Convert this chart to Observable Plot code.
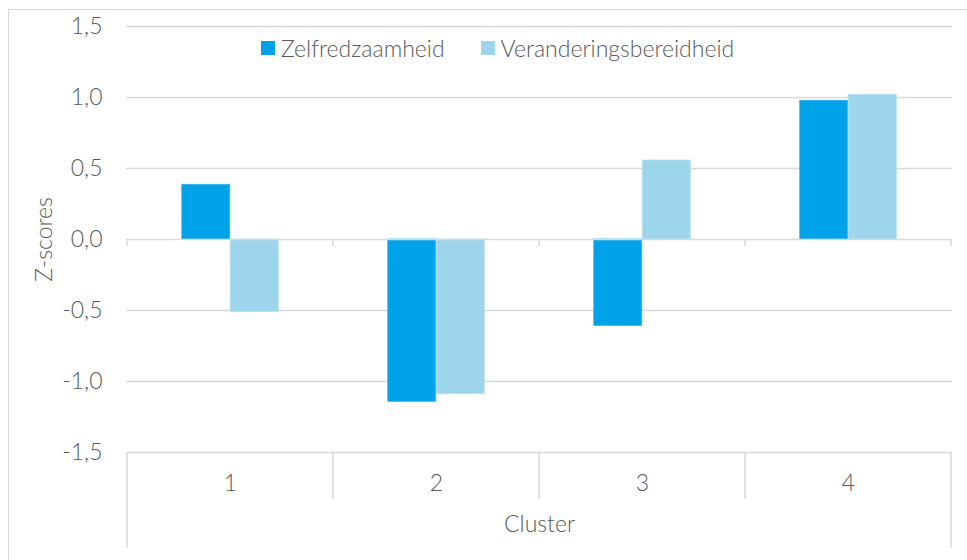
<!DOCTYPE html>
<html>
<head>
<meta charset="utf-8">
<script src="https://cdn.jsdelivr.net/npm/d3@7"></script>
<script src="https://cdn.jsdelivr.net/npm/@observablehq/plot@0.6"></script>
<style>
  html, body { margin: 0; padding: 0; background: #fff; overflow: hidden; }
  #wrap { position: relative; width: 967px; height: 560px; overflow: hidden; font-family: Lato, "Open Sans", sans-serif; font-weight: 300; color: #595959; }
  #border { position: absolute; left: 8px; top: 9px; width: 1000px; height: 600px; border: 1.5px solid #d9d9d9; box-sizing: border-box; }
  #chart { position: absolute; left: 0; top: 0; }
  #legend { position: absolute; left: 261px; top: 34px; height: 28px; display: flex; align-items: center; gap: 36px; font-size: 23px; }
  .item { display: flex; align-items: center; gap: 6px; white-space: nowrap; }
  .sw { width: 14px; height: 14px; display: inline-block; }
</style>
</head>
<body>
<div id="wrap">
  <div id="border"></div>
  <div id="chart"></div>
  <div id="legend"></div>
</div>
<script>
// ---- data ----
const clusters = ["1", "2", "3", "4"];
const seriesNames = ["Zelfredzaamheid", "Veranderingsbereidheid"];
const zelfredzaamheid = [0.385, -1.143, -0.608, 0.977];
const veranderingsbereidheid = [-0.509, -1.089, 0.556, 1.019];
const yTicks = [-1.5, -1.0, -0.5, 0.0, 0.5, 1.0, 1.5];
const colors = ["#00A3E9", "#9DD5EC"];
const xTitle = "Cluster";
const yTitle = "Z-scores";

// ---- layout ----
const W = 967, H = 560, ML = 126, MR = 15, MT = 26, MB = 108;
const bandW = (W - ML - MR) / clusters.length;
const barW = 48.5;
const grid = "#d9d9d9";
const textColor = "#595959";
const FS = 23;

const rowsZ = clusters.map((c, i) => ({cluster: c, series: seriesNames[0], value: zelfredzaamheid[i]}));
const rowsV = clusters.map((c, i) => ({cluster: c, series: seriesNames[1], value: veranderingsbereidheid[i]}));

const fmt = d => d.toFixed(1).replace(".", ",");

// category axis box lines, drawn from Plot's own scales
function axisBox(index, scales) {
  const x = scales.x, y = scales.y;
  const bw = x.bandwidth();
  const yb = y(yTicks[0]);
  const y0 = y(0);
  const g = d3.create("svg:g").attr("stroke", grid).attr("stroke-width", 1.5).attr("fill", "none");
  const edges = clusters.map(c => x(c)).concat([x(clusters[clusters.length - 1]) + bw]);
  edges.forEach((ex, i) => {
    const outer = i === 0 || i === edges.length - 1;
    g.append("line").attr("x1", ex).attr("x2", ex).attr("y1", yb).attr("y2", yb + (outer ? 96 : 47));
    g.append("line").attr("x1", ex).attr("x2", ex).attr("y1", y0).attr("y2", y0 + 7);
  });
  return g.node();
}

const chart = Plot.plot({
  width: W,
  height: H,
  marginLeft: ML,
  marginRight: MR,
  marginTop: MT,
  marginBottom: MB,
  style: {fontFamily: "Lato, 'Open Sans', sans-serif", fontWeight: 300, fontSize: FS + "px", color: textColor, background: "transparent"},
  x: {domain: clusters, padding: 0},
  y: {domain: [yTicks[0], yTicks[yTicks.length - 1]]},
  marks: [
    Plot.ruleY(yTicks.filter(d => d !== 0), {stroke: grid, strokeWidth: 1.5}),
    Plot.barY(rowsZ, {x: "cluster", y: "value", fill: colors[0], stroke: "#2FB3EE", strokeWidth: 0.8,
      insetLeft: bandW / 2 - barW, insetRight: bandW / 2}),
    Plot.barY(rowsV, {x: "cluster", y: "value", fill: colors[1], stroke: "#B2DEF0", strokeWidth: 0.8,
      insetLeft: bandW / 2, insetRight: bandW / 2 - barW}),
    Plot.ruleY([0], {stroke: grid, strokeWidth: 1.5}),
    axisBox,
    Plot.axisY(yTicks, {tickSize: 0, tickPadding: 24, tickFormat: fmt, label: null, fontSize: FS, fill: textColor}),
    Plot.axisX({tickSize: 0, tickPadding: 22, label: null, fontSize: FS, fill: textColor}),
    Plot.text([xTitle], {text: d => d, frameAnchor: "bottom", dy: 79, fontSize: FS, fill: textColor}),
    Plot.text([yTitle], {text: d => d, frameAnchor: "left", textAnchor: "middle", lineAnchor: "middle", dx: -82, rotate: -90, fontSize: FS, fill: textColor})
  ]
});
document.getElementById("chart").appendChild(chart);

// legend
const legend = document.getElementById("legend");
seriesNames.forEach((name, i) => {
  const item = document.createElement("div");
  item.className = "item";
  const sw = document.createElement("span");
  sw.className = "sw";
  sw.style.background = colors[i];
  const t = document.createElement("span");
  t.textContent = name;
  item.appendChild(sw);
  item.appendChild(t);
  legend.appendChild(item);
});
</script>
</body>
</html>
